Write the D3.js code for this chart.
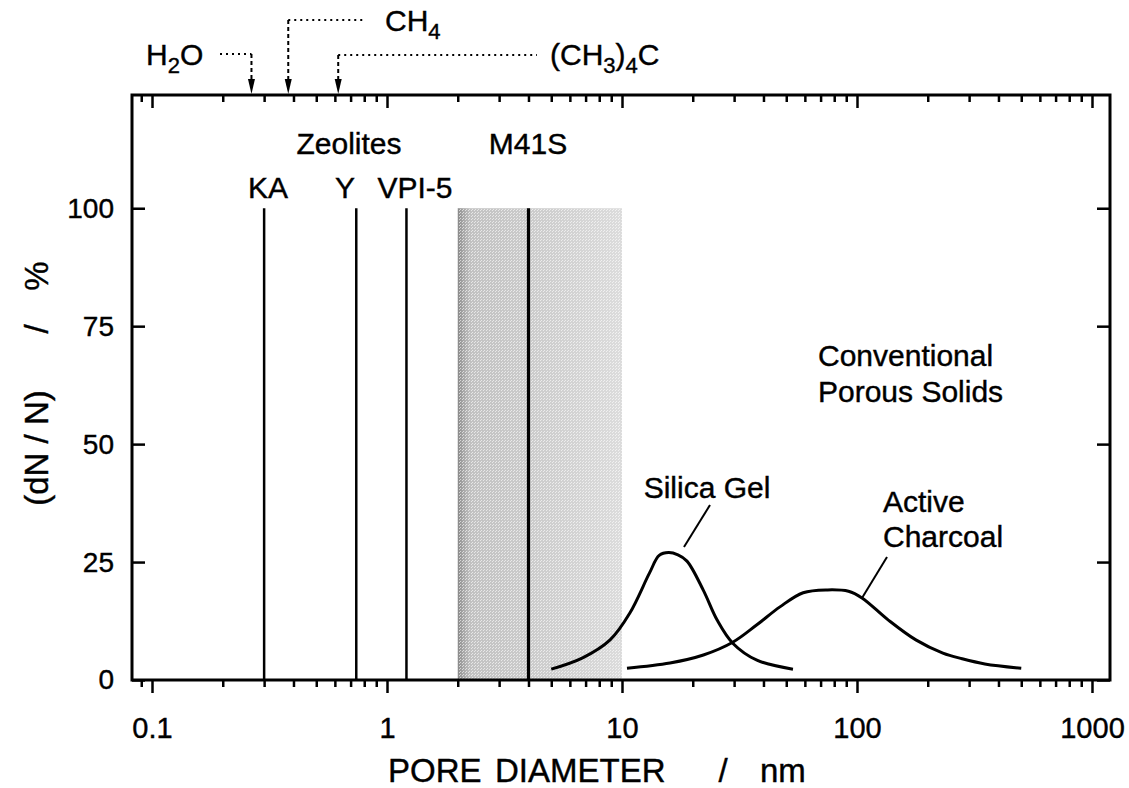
<!DOCTYPE html>
<html>
<head>
<meta charset="utf-8">
<script src="https://cdn.jsdelivr.net/npm/d3@7"></script>
<style>
  body { margin: 0; background: #fff; }
  svg { display: block; }
  text { font-family: "Liberation Sans", Arial, sans-serif; fill: #000; stroke: #000; stroke-width: 0.4px; }
</style>
</head>
<body>
<svg id="chart" width="1129" height="788"></svg>
<script>
// pore diameters in nm, distribution in %
var xMajor = [0.1, 1, 10, 100, 1000];
var xTickLabels = ["0.1", "1", "10", "100", "1000"];
var yTicks = [0, 25, 50, 75, 100];

var zeoliteNames = ["KA", "Y", "VPI-5"];
var zeoliteDiam = [0.3, 0.74, 1.21];

var m41sDiam = 4.0;
var m41sRange = [2, 10];
var lineTop = 100;

var moleculeNames = ["H2O", "CH4", "(CH3)4C"];
var moleculeDiam = [0.265, 0.38, 0.62];

var silicaDiam = [5, 6.8, 8.9, 10.8, 13.1, 14.4, 15.8, 17.3, 18.9, 22.2, 25.4, 29.6, 37.5, 53.4];
var silicaPct  = [2.3, 4.7, 8.5, 14.2, 22.7, 26.4, 27.0, 26.5, 25.2, 19, 12.7, 7.8, 4.2, 2.3];

var charcoalDiam = [10.5, 16, 22.2, 29.6, 37.5, 47, 59, 75, 92, 105, 136, 178, 232, 280, 350, 500];
var charcoalPct  = [2.5, 3.6, 5.3, 8, 11.7, 15.5, 18.5, 19.1, 18.8, 17.4, 12.7, 8.5, 5.7, 4.5, 3.4, 2.5];

var svg = d3.select("#chart");

var plotL = 132, plotR = 1110, plotT = 95, plotB = 680;

var x = d3.scaleLog().domain([0.0822, 1193]).range([plotL, plotR]);
var y = d3.scaleLinear().domain([0, 124]).range([plotB, plotT]);

// minor ticks for every decade
var xMinor = [];
[0.01, 0.1, 1, 10, 100].forEach(function (dec) {
    for (var k = 2; k <= 9; k++) {
        var v = dec * k;
        if (v > x.domain()[0] && v < x.domain()[1]) xMinor.push(v);
    }
});

var defs = svg.append("defs");
var grad = defs.append("linearGradient").attr("id", "shade")
    .attr("x1", "0%").attr("x2", "100%").attr("y1", "0%").attr("y2", "0%");
grad.append("stop").attr("offset", "0%").attr("stop-color", "#8a8a8a");
grad.append("stop").attr("offset", "3%").attr("stop-color", "#a4a4a4");
grad.append("stop").attr("offset", "8%").attr("stop-color", "#c2c2c2");
grad.append("stop").attr("offset", "50%").attr("stop-color", "#cdcdcd");
grad.append("stop").attr("offset", "100%").attr("stop-color", "#dcdcdc");

var dots = defs.append("pattern").attr("id", "dots")
    .attr("width", 3).attr("height", 3).attr("patternUnits", "userSpaceOnUse");
dots.append("rect").attr("x", 0).attr("y", 0).attr("width", 1).attr("height", 1).attr("fill", "#fff");
dots.append("rect").attr("x", 1).attr("y", 2).attr("width", 1).attr("height", 1).attr("fill", "#fff");

// M41S band
svg.append("rect")
    .attr("x", x(m41sRange[0]))
    .attr("y", y(lineTop))
    .attr("width", x(m41sRange[1]) - x(m41sRange[0]))
    .attr("height", y(0) - y(lineTop))
    .attr("fill", "url(#shade)");
svg.append("rect")
    .attr("x", x(m41sRange[0]))
    .attr("y", y(lineTop))
    .attr("width", x(m41sRange[1]) - x(m41sRange[0]))
    .attr("height", y(0) - y(lineTop))
    .attr("fill", "url(#dots)").attr("opacity", 0.6);

// zeolite + M41S lines
svg.selectAll(".zeo").data(zeoliteDiam).enter().append("line")
    .attr("class", "zeo")
    .attr("x1", function (d) { return x(d); })
    .attr("x2", function (d) { return x(d); })
    .attr("y1", y(0)).attr("y2", y(lineTop))
    .attr("stroke", "#000").attr("stroke-width", 2.5);

svg.append("line")
    .attr("x1", x(m41sDiam)).attr("x2", x(m41sDiam))
    .attr("y1", y(0)).attr("y2", y(lineTop))
    .attr("stroke", "#000").attr("stroke-width", 3.2);

// distributions
var line = d3.line()
    .x(function (d) { return x(d[0]); })
    .y(function (d) { return y(d[1]); })
    .curve(d3.curveCatmullRom.alpha(0.5));

svg.append("path")
    .datum(d3.zip(silicaDiam, silicaPct))
    .attr("d", line)
    .attr("fill", "none").attr("stroke", "#000").attr("stroke-width", 3);

svg.append("path")
    .datum(d3.zip(charcoalDiam, charcoalPct))
    .attr("d", line)
    .attr("fill", "none").attr("stroke", "#000").attr("stroke-width", 3);

// axes
function styleAxis(g) {
    g.selectAll("path.domain").remove();
    g.selectAll(".tick line").attr("stroke", "#000").attr("stroke-width", 2.5);
    g.selectAll(".tick text").style("font-size", "28px").style("font-family", "Liberation Sans, Arial, sans-serif");
}

svg.append("g").attr("transform", "translate(0," + plotB + ")")
    .call(d3.axisBottom(x).tickValues(xMajor).tickSize(13).tickPadding(24)
        .tickFormat(function (d, i) { return xTickLabels[i]; }))
    .call(styleAxis)
    .call(function (g) { g.selectAll(".tick text").style("font-size", "29px"); });
svg.append("g").attr("transform", "translate(0," + plotB + ")")
    .call(d3.axisBottom(x).tickValues(xMinor).tickSize(7).tickFormat(""))
    .call(styleAxis);
svg.append("g").attr("transform", "translate(0," + plotT + ")")
    .call(d3.axisTop(x).tickValues(xMajor).tickSize(-13).tickFormat(""))
    .call(styleAxis);
svg.append("g").attr("transform", "translate(0," + plotT + ")")
    .call(d3.axisTop(x).tickValues(xMinor).tickSize(-7).tickFormat(""))
    .call(styleAxis);
svg.append("g").attr("transform", "translate(" + plotL + ",0)")
    .call(d3.axisLeft(y).tickValues(yTicks).tickSize(-13).tickPadding(18))
    .call(styleAxis);
svg.append("g").attr("transform", "translate(" + plotR + ",0)")
    .call(d3.axisRight(y).tickValues(yTicks).tickSize(-13).tickFormat(""))
    .call(styleAxis);

svg.append("rect")
    .attr("x", plotL).attr("y", plotT)
    .attr("width", plotR - plotL).attr("height", plotB - plotT)
    .attr("fill", "none").attr("stroke", "#000").attr("stroke-width", 3);

// axis titles, words spread as in the original
var xTitle = [["PORE", 388, "start"], ["DIAMETER", 495, "start"], ["/", 723, "middle"], ["nm", 760, "start"]];
xTitle.forEach(function (w) {
    svg.append("text").attr("x", w[1]).attr("y", 782)
        .attr("text-anchor", w[2]).style("font-size", "33px").text(w[0]);
});

var yTitle = [["(dN / N)", 448], ["/", 329], ["%", 276]];
yTitle.forEach(function (w) {
    svg.append("text")
        .attr("transform", "translate(48," + w[1] + ") rotate(-90)")
        .attr("text-anchor", "middle").style("font-size", "33px").text(w[0]);
});

// labels
function label(txt, px, py, anchor) {
    return svg.append("text").attr("x", px).attr("y", py)
        .attr("text-anchor", anchor || "middle").style("font-size", "30px").text(txt);
}
label("Zeolites", 349, 154);
label("M41S", 528, 154);
var zeoLabelX = [268, 345, 415];
zeoliteNames.forEach(function (n, i) { label(n, zeoLabelX[i], 198); });

label("Conventional", 818, 366, "start");
label("Porous Solids", 818, 402, "start");
label("Silica Gel", 707, 498);
label("Active", 883, 512, "start");
label("Charcoal", 883, 547, "start");

// leader lines
var leaders = [[684, 547, 710, 505], [862, 598, 887, 557]];
svg.selectAll(".leader").data(leaders).enter().append("line")
    .attr("x1", function (d) { return d[0]; }).attr("y1", function (d) { return d[1]; })
    .attr("x2", function (d) { return d[2]; }).attr("y2", function (d) { return d[3]; })
    .attr("stroke", "#000").attr("stroke-width", 2);

// molecule markers on top axis
var molLabelY = [65, 31, 65];
var molLineY = [54, 20, 55];
var molLineEnd = [220, 364, 537];

moleculeDiam.forEach(function (d, i) {
    var mx = x(d);
    svg.append("line")
        .attr("x1", Math.min(mx, molLineEnd[i])).attr("x2", Math.max(mx, molLineEnd[i]))
        .attr("y1", molLineY[i]).attr("y2", molLineY[i])
        .attr("stroke", "#000").attr("stroke-width", 2).attr("stroke-dasharray", "2,4");
    svg.append("line")
        .attr("x1", mx).attr("x2", mx)
        .attr("y1", molLineY[i]).attr("y2", plotT - 14)
        .attr("stroke", "#000").attr("stroke-width", 2).attr("stroke-dasharray", "4,3");
    svg.append("path")
        .attr("d", "M" + (mx - 3.5) + "," + (plotT - 16) + "L" + (mx + 3.5) + "," + (plotT - 16) + "L" + mx + "," + (plotT - 1) + "Z")
        .attr("fill", "#000");
});

function chem(parts, px, py, anchor) {
    var t = svg.append("text").attr("x", px).attr("y", py)
        .attr("text-anchor", anchor).style("font-size", "30px");
    parts.forEach(function (p) {
        var s = t.append("tspan").text(p[0]);
        if (p[1] === "sub") s.attr("dy", 8).style("font-size", "22px");
        if (p[1] === "up") s.attr("dy", -8);
    });
    return t;
}
chem([["H"], ["2", "sub"], ["O", "up"]], 146, molLabelY[0], "start");
chem([["CH"], ["4", "sub"]], 385, molLabelY[1], "start");
chem([["(CH"], ["3", "sub"], [")", "up"], ["4", "sub"], ["C", "up"]], 550, molLabelY[2], "start");
</script>
</body>
</html>
